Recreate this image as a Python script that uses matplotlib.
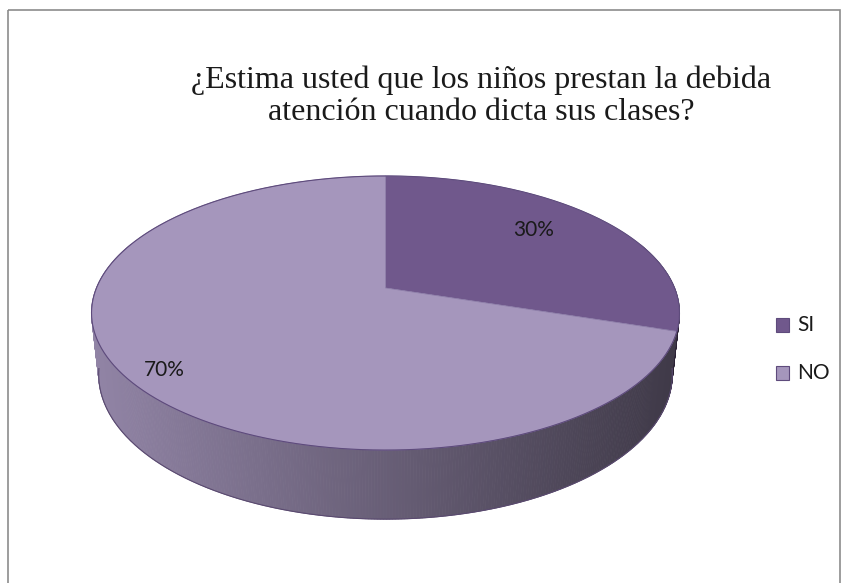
import numpy as np
import matplotlib.pyplot as plt
from matplotlib.patches import Polygon, Rectangle

# data
labels = ['SI', 'NO']
values = [30, 70]
colors = ['#70588c', '#a596bc']
title = '¿Estima usted que los niños prestan la debida\natención cuando dicta sus clases?'

# 3d view settings (pixel space)
cx, cy = 385.5, 288.0
fx, fy = 1399.0, 1366.0
elev = np.radians(28)
dist = 4.84
thick = 0.249


def proj(theta, r=1.0, z=0.0):
    x = r * np.cos(theta)
    y = r * np.sin(theta)
    u = y * np.sin(elev) + z * np.cos(elev)
    d = dist + y * np.cos(elev) - z * np.sin(elev)
    return cx + fx * x / d, cy - fy * u / d


def depth(theta):
    return np.sin(theta)


def shade(rgb, px):
    t = np.clip((px - 92) / (680 - 92), 0, 1)
    k = 0.88 - 0.50 * t
    return tuple(np.clip(np.array(rgb) * k, 0, 1))


fig = plt.figure(figsize=(8.46, 5.83), dpi=100)
ax = fig.add_axes([0, 0, 1, 1])
ax.set_xlim(0, 846)
ax.set_ylim(583, 0)
ax.axis('off')

# border
ax.add_patch(Rectangle((8, 10), 832, 600, fill=False, ec='#8c8c8c', lw=1.2))

# slice angles (start at 12 o'clock, clockwise)
fracs = np.array(values) / sum(values)
starts = np.pi / 2 - np.concatenate([[0], np.cumsum(fracs)[:-1]]) * 2 * np.pi
ends = starts - fracs * 2 * np.pi

# side quads, far to near
quads = []
for s, e, c in zip(starts, ends, colors):
    ts = np.linspace(s, e, int(abs(e - s) / np.radians(0.5)) + 2)
    for a, b in zip(ts[:-1], ts[1:]):
        m = (a + b) / 2
        if np.sin(m) > 0.35:
            continue
        quads.append((depth(m), a, b, c))
quads.sort(key=lambda q: -q[0])
for _, a, b, c in quads:
    p1 = proj(a); p2 = proj(b)
    p3 = proj(b, z=-thick); p4 = proj(a, z=-thick)
    rgb = np.array(plt.matplotlib.colors.to_rgb(c))
    col = shade(rgb, (p1[0] + p2[0]) / 2)
    ax.add_patch(Polygon([p1, p2, p3, p4], closed=True, fc=col, ec=col, lw=0.6))

# bottom outline of side
tb = np.linspace(np.radians(188), np.radians(352), 200)
bx, by = proj(tb, z=-thick)
ax.plot(bx, by, color='#5a4a70', lw=0.8)

# top wedges
for s, e, c in zip(starts, ends, colors):
    ts = np.linspace(s, e, 300)
    xs, ys = proj(ts)
    pts = [proj(0, r=0)] + list(zip(xs, ys))
    ax.add_patch(Polygon(pts, closed=True, fc=c, ec='#8a7aa6', lw=0.5))

# top rim
tt = np.linspace(0, 2 * np.pi, 400)
rx, ry = proj(tt)
ax.plot(rx, ry, color='#5e4b7c', lw=0.8)

# labels
label_r = [0.68, 0.86]
label_dy = [-9, 8]
for s, e, v, r, dy in zip(starts, ends, values, label_r, label_dy):
    lx, ly = proj((s + e) / 2, r=r)
    ax.text(lx, ly + dy, '%d%%' % v, ha='center', va='center',
            fontsize=15, family='Lato', color='#1a1a1a')

# title
ax.text(481, 96, title, ha='center', va='center', fontsize=23,
        family='Liberation Serif', color='#1a1a1a', linespacing=1.15)

# legend
for i, (lab, c) in enumerate(zip(labels, colors)):
    yy = 325 + i * 48
    ax.add_patch(Rectangle((776, yy - 7), 13, 14, fc=c, ec='#5e4b7c', lw=0.8))
    ax.text(797, yy, lab, ha='left', va='center', fontsize=15,
            family='Lato', color='#1a1a1a')

fig.savefig('out.png', dpi=100)
